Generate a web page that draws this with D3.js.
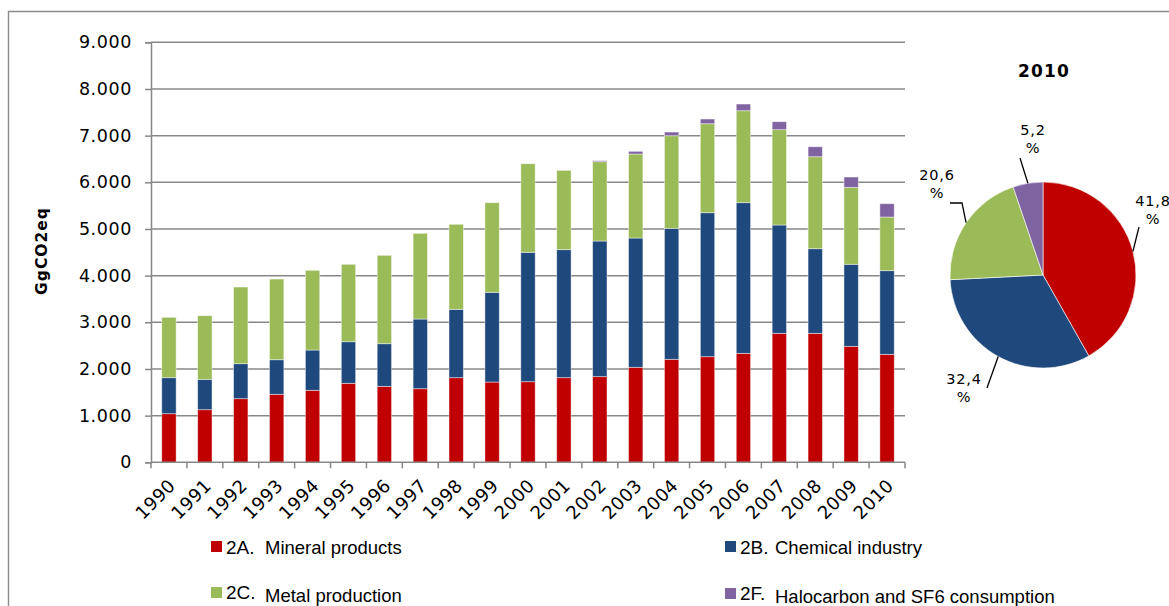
<!DOCTYPE html>
<html>
<head>
<meta charset="utf-8">
<script src="https://cdn.jsdelivr.net/npm/d3@7/dist/d3.min.js"></script>
<style>
html,body{margin:0;padding:0;background:#fff;}
svg{display:block;}
</style>
</head>
<body>
<svg id="chart" width="1169" height="606"></svg>
<script>
// ---------- data ----------
const years = ["1990","1991","1992","1993","1994","1995","1996","1997","1998","1999","2000","2001","2002","2003","2004","2005","2006","2007","2008","2009","2010"];
const mineral    = [1041,1127,1363,1457,1543,1693,1628,1577,1813,1720,1727,1813,1835,2036,2207,2263,2335,2764,2764,2485,2314];
const chemical   = [772,651,750,741,863,891,913,1493,1465,1922,2773,2743,2907,2770,2807,3085,3228,2321,1813,1758,1792];
const metal      = [1294,1363,1643,1729,1708,1659,1894,1837,1822,1921,1898,1700,1699,1800,1984,1907,1971,2042,1971,1649,1150];
const halocarbon = [0,0,0,0,0,0,0,0,0,0,0,0,22,58,79,101,143,171,214,221,285];
const yTicks = [0,1000,2000,3000,4000,5000,6000,7000,8000,9000];
const seriesCodes = ["2A.","2B.","2C.","2F."];
const seriesNames = ["Mineral products","Chemical industry","Metal production","Halocarbon and SF6 consumption"];
const pieTitle = "2010";
const pieShares = [41.8, 32.4, 20.6, 5.2];
const yTitle = "GgCO2eq";

// ---------- styles ----------
const colors = ["#C00000","#1F497D","#9BBB59","#8064A2"];
const gridColor = "#878787";

const svg = d3.select("#chart");

// outer frame
svg.append("path").attr("d","M8.5,606 L8.5,11.5 L1169,11.5")
  .attr("fill","none").attr("stroke","#8c8c8c").attr("stroke-width",1.4);

// ---------- bar chart ----------
const plot = {left:151, right:905, top:42.3, bottom:462.3};
const x = d3.scaleBand().domain(years).range([plot.left, plot.right]).paddingInner(0.6).paddingOuter(0.3);
const y = d3.scaleLinear().domain([0,9000]).range([plot.bottom, plot.top]);
const fmt = d => d === 0 ? "0" : d3.format(",")(d).replace(/,/g,".");

// gridlines
svg.append("g").selectAll("line").data(yTicks.filter(d=>d>0)).join("line")
  .attr("x1",plot.left).attr("x2",plot.right)
  .attr("y1",d=>y(d)).attr("y2",d=>y(d))
  .attr("stroke",gridColor).attr("stroke-width",1.5);

// y axis
const yAxis = svg.append("g").attr("transform",`translate(${plot.left},0)`)
  .call(d3.axisLeft(y).tickValues(yTicks).tickFormat(fmt).tickSize(6).tickPadding(13));
yAxis.select(".domain").attr("stroke",gridColor).attr("stroke-width",1.5);
yAxis.selectAll(".tick line").attr("stroke",gridColor).attr("stroke-width",1.5);
yAxis.selectAll(".tick text").attr("font-family","DejaVu Sans, Verdana, sans-serif")
  .attr("font-size","17.5px").attr("letter-spacing","0.6px").attr("fill","#000");

// stacked bars
const table = years.map((yr,i)=>({year:yr, s0:mineral[i], s1:chemical[i], s2:metal[i], s3:halocarbon[i]}));
const stack = d3.stack().keys(["s0","s1","s2","s3"])(table);
svg.append("g").selectAll("g").data(stack).join("g")
  .attr("fill",(d,i)=>colors[i])
  .selectAll("rect").data(d=>d.filter(p=>p[1]-p[0]>0)).join("rect")
  .attr("x",d=>x(d.data.year)).attr("width",x.bandwidth())
  .attr("y",d=>y(d[1])).attr("height",d=>y(d[0])-y(d[1]))
  .attr("stroke","rgba(255,255,255,0.55)").attr("stroke-width",0.8);

// x axis
const xAxisG = svg.append("g").attr("transform",`translate(0,${plot.bottom})`);
xAxisG.append("line").attr("x1",plot.left).attr("x2",plot.right).attr("y1",0).attr("y2",0)
  .attr("stroke",gridColor).attr("stroke-width",1.5);
const bounds = years.map(yr => x(yr) - x.step()*x.paddingOuter()).concat([plot.right]);
xAxisG.selectAll("line.tk").data(bounds).join("line").attr("class","tk")
  .attr("x1",d=>d).attr("x2",d=>d).attr("y1",0).attr("y2",6)
  .attr("stroke",gridColor).attr("stroke-width",1.5);
xAxisG.selectAll("text").data(years).join("text")
  .attr("transform",d=>`translate(${x(d)+x.bandwidth()/2-2},${15}) rotate(-45)`)
  .attr("text-anchor","end").attr("dy","0.75em")
  .attr("font-family","DejaVu Sans, Verdana, sans-serif").attr("font-size","18px")
  .attr("letter-spacing","0.4px").attr("fill","#000")
  .text(d=>d);

// y title
svg.append("text").attr("transform","translate(47,251) rotate(-90)")
  .attr("text-anchor","middle")
  .attr("font-family","DejaVu Sans, Verdana, sans-serif").attr("font-weight","bold")
  .attr("font-size","15.5px").attr("letter-spacing","1px").text(yTitle);

// ---------- legend ----------
const legendPos = [[211,541],[725,541],[211,587],[725,588]];
const lg = svg.append("g").selectAll("g").data(seriesNames).join("g")
  .attr("transform",(d,i)=>`translate(${legendPos[i][0]},${legendPos[i][1]})`);
lg.append("rect").attr("width",11).attr("height",11).attr("fill",(d,i)=>colors[i]);
lg.append("text").attr("x",15).attr("y",(d,i)=>i<2?12.5:11.5)
  .attr("font-family","Liberation Sans, Arial, sans-serif").attr("font-size","19px")
  .text((d,i)=>seriesCodes[i]);
lg.append("text").attr("x",(d,i)=>i%2===0?54:50).attr("y",(d,i)=>i<2?12.5:14.5)
  .attr("font-family","Liberation Sans, Arial, sans-serif").attr("font-size","18.5px")
  .text(d=>d);

// ---------- pie ----------
const cx = 1043, cy = 275, r = 93;
const pieG = svg.append("g").attr("transform",`translate(${cx},${cy})`);
const arcs = d3.pie().sort(null).value(d=>d)(pieShares);
const arc = d3.arc().innerRadius(0).outerRadius(r);
pieG.selectAll("path").data(arcs).join("path")
  .attr("d",arc).attr("fill",(d,i)=>colors[i])
  .attr("stroke","#fff").attr("stroke-width",0.6);

svg.append("text").attr("x",cx+1).attr("y",76.5).attr("text-anchor","middle")
  .attr("font-family","DejaVu Sans, Verdana, sans-serif").attr("font-weight","bold")
  .attr("font-size","17px").attr("letter-spacing","1.2px").text(pieTitle);

// pie labels: label centre offsets and leader start points (relative to centre)
const labelOffsets = [[110,-69],[-79,109],[-106,-95],[-10,-140]];
const leaderStart = [[[96,-48]],[[-56,113]],[[-93,-72],[-81,-72]],[[-23,-117]]];
arcs.forEach((a,i)=>{
  const mid = (a.startAngle+a.endAngle)/2;
  const ex = r*Math.sin(mid), ey = -r*Math.cos(mid);
  const pts = leaderStart[i].concat([[ex,ey]]);
  pieG.append("path").attr("d",d3.line()(pts)).attr("fill","none")
    .attr("stroke","#000").attr("stroke-width",1.3);
  const t = pieG.append("text").attr("x",labelOffsets[i][0]).attr("y",labelOffsets[i][1])
    .attr("text-anchor","middle")
    .attr("font-family","DejaVu Sans, Verdana, sans-serif").attr("font-size","14.5px")
    .attr("letter-spacing","0.8px");
  t.append("tspan").attr("x",labelOffsets[i][0]).text(d3.format(".1f")(pieShares[i]).replace(".",","));
  t.append("tspan").attr("x",labelOffsets[i][0]).attr("dy",18).text("%");
});
</script>
</body>
</html>
